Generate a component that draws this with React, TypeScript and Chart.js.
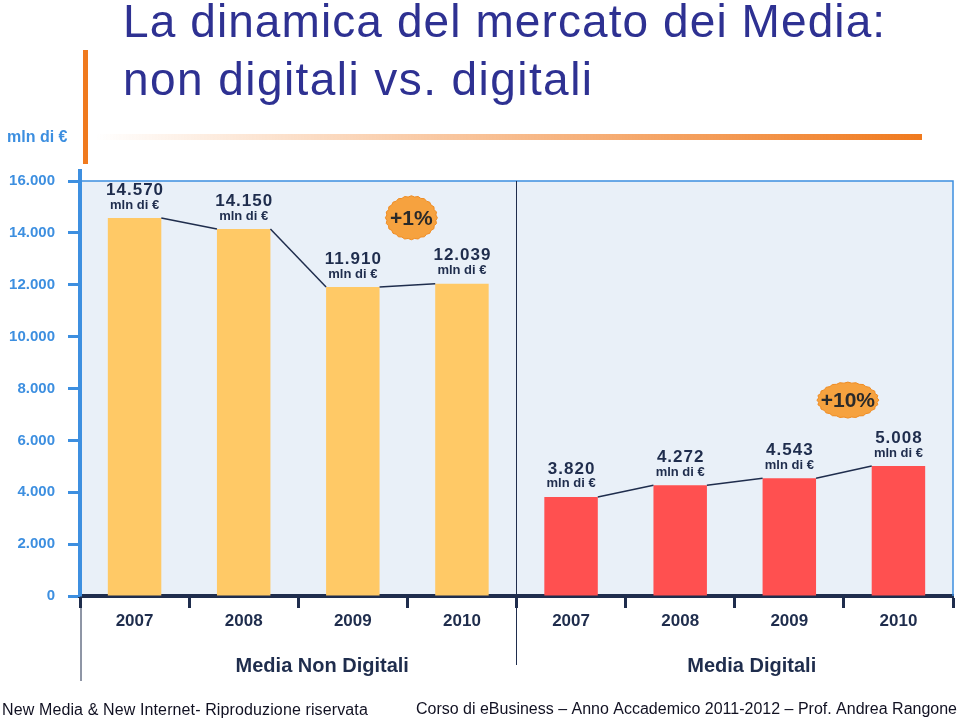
import { useEffect, useRef } from "react";
import { Chart, registerables } from "chart.js";

Chart.register(...registerables);

const years = ["2007", "2008", "2009", "2010"];
const groupNames = ["Media Non Digitali", "Media Digitali"];
const nonDigitalValues = [14570, 14150, 11910, 12039];
const digitalValues = [3820, 4272, 4543, 5008];
const growthLabels = ["+1%", "+10%"];
const yTickMin = 0;
const yTickMax = 16000;
const yTickStep = 2000;
const unitLabel = "mln di €";
const titleLines = ["La dinamica del mercato dei Media:", "non digitali vs. digitali"];
const footerLeft = "New Media & New Internet- Riproduzione riservata";
const footerRight = "Corso di eBusiness – Anno Accademico 2011-2012 – Prof. Andrea Rangone";

const BLUE = "#3D8FE0";
const NAVY = "#1F2D4D";
const YELLOW = "#FFC966";
const RED = "#FF5050";
const TITLE = "#2E3192";
const SANS = "'Liberation Sans', Arial, Helvetica, sans-serif";

function fmt(n: number): string {
  if (n < 1000) return String(n);
  return Math.floor(n / 1000) + "." + String(n % 1000).padStart(3, "0");
}

// draws text starting at x, spreading letters so that it spans `width`
function spacedText(ctx: CanvasRenderingContext2D, text: string, x: number, y: number, width: number, font: string, color: string) {
  ctx.save();
  ctx.font = font;
  ctx.fillStyle = color;
  ctx.textAlign = "left";
  ctx.textBaseline = "alphabetic";
  (ctx as any).letterSpacing = "0px";
  const w = ctx.measureText(text).width;
  if (w >= width) {
    ctx.translate(x, y);
    ctx.scale(width / w, 1);
    ctx.fillText(text, 0, 0);
  } else {
    const sp = (width - w) / (text.length - 1);
    (ctx as any).letterSpacing = sp.toFixed(2) + "px";
    ctx.fillText(text, x, y);
  }
  ctx.restore();
}

function badge(ctx: CanvasRenderingContext2D, cx: number, cy: number, rx: number, ry: number, text: string) {
  ctx.save();
  ctx.beginPath();
  const n = 48;
  for (let i = 0; i <= n; i++) {
    const a = (i / n) * Math.PI * 2;
    const k = i % 2 === 0 ? 1.0 : 0.95;
    const px = cx + Math.cos(a) * rx * k;
    const py = cy + Math.sin(a) * ry * k;
    if (i === 0) ctx.moveTo(px, py);
    else ctx.lineTo(px, py);
  }
  ctx.closePath();
  ctx.fillStyle = "#F6A23F";
  ctx.fill();
  ctx.strokeStyle = "#F08C22";
  ctx.lineWidth = 1;
  ctx.stroke();
  ctx.fillStyle = "#2A2A2A";
  ctx.font = "bold 21px " + SANS;
  ctx.textAlign = "center";
  ctx.textBaseline = "middle";
  ctx.fillText(text, cx, cy + 1);
  ctx.restore();
}

const slidePlugin = {
  id: "slide",
  beforeDraw(chart: any) {
    const { ctx, chartArea } = chart;
    ctx.save();
    ctx.fillStyle = "#E9F0F8";
    ctx.fillRect(chartArea.left, chartArea.top, chartArea.right - chartArea.left, chartArea.bottom - chartArea.top);
    ctx.restore();
  },
  afterDraw(chart: any) {
    const { ctx, chartArea } = chart;
    const bars = chart.getDatasetMeta(0).data as any[];
    ctx.save();
    // plot frame top/right
    ctx.strokeStyle = BLUE;
    ctx.lineWidth = 1.5;
    ctx.beginPath();
    ctx.moveTo(chartArea.left, chartArea.top);
    ctx.lineTo(chartArea.right, chartArea.top);
    ctx.lineTo(chartArea.right, chartArea.bottom);
    ctx.stroke();
    // axis extension above
    ctx.lineWidth = 4;
    ctx.beginPath();
    ctx.moveTo(chartArea.left, chartArea.top - 12);
    ctx.lineTo(chartArea.left, chartArea.top);
    ctx.stroke();

    // separators
    const n1 = nonDigitalValues.length;
    const sepX = (bars[n1 - 1].x + bars[n1].x) / 2;
    ctx.strokeStyle = NAVY;
    ctx.lineWidth = 1;
    ctx.beginPath();
    ctx.moveTo(sepX, chartArea.top);
    ctx.lineTo(sepX, 665);
    ctx.moveTo(chartArea.left + 1, chartArea.bottom);
    ctx.lineTo(chartArea.left + 1, 681);
    ctx.stroke();

    // connectors
    const groups = [
      [0, n1],
      [n1, n1 + digitalValues.length],
    ];
    ctx.strokeStyle = NAVY;
    ctx.lineWidth = 1.5;
    for (const [a, b] of groups) {
      for (let i = a; i < b - 1; i++) {
        const p = bars[i];
        const q = bars[i + 1];
        ctx.beginPath();
        ctx.moveTo(p.x + p.width / 2, p.y);
        ctx.lineTo(q.x - q.width / 2, q.y);
        ctx.stroke();
      }
    }

    // value labels
    const all = [...nonDigitalValues, ...digitalValues];
    ctx.fillStyle = NAVY;
    ctx.textAlign = "center";
    ctx.textBaseline = "middle";
    bars.forEach((bar: any, i: number) => {
      ctx.font = "bold 17px " + SANS;
      (ctx as any).letterSpacing = "1px";
      ctx.fillText(fmt(all[i]), bar.x + 0.5, bar.y - 28);
      ctx.font = "bold 13px " + SANS;
      (ctx as any).letterSpacing = "0px";
      ctx.fillText(unitLabel, bar.x, bar.y - 13);
    });

    // badges
    groups.forEach(([a, b], gi) => {
      const p = bars[b - 2];
      const q = bars[b - 1];
      const cx = (p.x + q.x) / 2 + 4;
      const cy = q.y - 66;
      badge(ctx, cx, cy, gi === 0 ? 26 : 31, gi === 0 ? 22 : 18, growthLabels[gi]);
    });

    // group labels
    ctx.fillStyle = NAVY;
    ctx.font = "bold 20px " + SANS;
    ctx.textAlign = "center";
    ctx.textBaseline = "alphabetic";
    ctx.fillText(groupNames[0], (chartArea.left + sepX) / 2 + 24, 672);
    ctx.fillText(groupNames[1], (sepX + chartArea.right) / 2 + 17, 672);

    // unit label
    ctx.fillStyle = BLUE;
    ctx.font = "bold 16px " + SANS;
    ctx.textAlign = "left";
    ctx.textBaseline = "middle";
    ctx.fillText(unitLabel, 7, 138);

    // decorations
    ctx.fillStyle = "#F07A1E";
    ctx.fillRect(83, 50, 5, 114);
    const g = ctx.createLinearGradient(95, 0, 922, 0);
    g.addColorStop(0, "rgba(240,122,30,0)");
    g.addColorStop(1, "rgba(240,122,30,1)");
    ctx.fillStyle = g;
    ctx.fillRect(95, 134, 827, 6);

    // title
    const tf = "46px " + SANS;
    spacedText(ctx, titleLines[0], 123, 37, 762, tf, TITLE);
    spacedText(ctx, titleLines[1], 123, 95, 469, tf, TITLE);

    // footer
    const ff = "16px " + SANS;
    spacedText(ctx, footerLeft, 2, 715, 366, ff, "#111122");
    spacedText(ctx, footerRight, 416, 714, 541, ff, "#111122");
    ctx.restore();
  },
};

export default function App() {
  const ref = useRef<HTMLCanvasElement | null>(null);
  useEffect(() => {
    if (!ref.current) return;
    const labels = [...years, ...years];
    const data = [...nonDigitalValues, ...digitalValues];
    const colors = [...nonDigitalValues.map(() => YELLOW), ...digitalValues.map(() => RED)];
    const chart = new Chart(ref.current, {
      type: "bar",
      data: {
        labels,
        datasets: [
          {
            data,
            backgroundColor: colors,
            borderWidth: 0,
            categoryPercentage: 1,
            barPercentage: 0.49,
          },
        ],
      },
      options: {
        animation: false,
        responsive: false,
        devicePixelRatio: 1,
        layout: { padding: { top: 181, right: 7, bottom: 83, left: 0 } },
        plugins: { legend: { display: false }, tooltip: { enabled: false } },
        scales: {
          x: {
            offset: true,
            border: { color: NAVY, width: 4 },
            grid: { drawOnChartArea: false, offset: true, tickLength: 12, tickColor: NAVY, tickWidth: 3 },
            ticks: {
              color: NAVY,
              font: { family: SANS, size: 17, weight: "bold" },
              padding: 3,
              maxRotation: 0,
              autoSkip: false,
            },
            afterFit: (s: any) => {
              s.height = 40;
            },
          },
          y: {
            min: yTickMin,
            max: yTickMax,
            border: { color: BLUE, width: 4 },
            grid: { drawOnChartArea: false, tickLength: 12, tickColor: BLUE, tickWidth: 3 },
            ticks: {
              stepSize: yTickStep,
              color: BLUE,
              padding: 13,
              font: { family: SANS, size: 15, weight: "bold" },
              callback: (v: any) => fmt(Number(v)),
            },
            afterFit: (s: any) => {
              s.width = 80;
            },
          },
        },
      } as any,
      plugins: [slidePlugin],
    });
    return () => chart.destroy();
  }, []);
  return (
    <div style={{ position: "absolute", left: 0, top: 0, width: 960, height: 719, background: "#fff" }}>
      <canvas ref={ref} width={960} height={719} style={{ display: "block" }} />
    </div>
  );
}
